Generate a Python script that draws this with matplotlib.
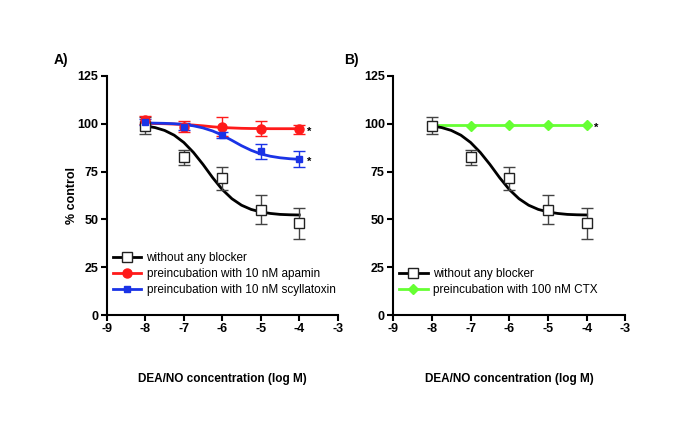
import numpy as np
import matplotlib.pyplot as plt

plt.rcParams['font.family'] = ['Liberation Sans', 'DejaVu Sans']
plt.rcParams['font.weight'] = 'bold'
plt.rcParams['axes.unicode_minus'] = False

# measured points (log M)
conc = [-8, -7, -6, -5, -4]
ctrl_mean = [99, 82.5, 71.5, 55, 48]
ctrl_err = [4.5, 4, 6, 7.5, 8]
apamin_mean = [102, 98.5, 98.5, 97.5, 97]
apamin_err = [2, 3, 5, 4, 2.5]
scylla_mean = [101, 98.5, 94, 85.5, 81.5]
scylla_err = [1.5, 2, 1.5, 4, 4]
ctx_mean = [99, 98.8, 99.2, 99.2, 99.2]

# fitted curves
fit_x = [-8, -7.75, -7.5, -7.25, -7, -6.75, -6.5, -6.25, -6,
         -5.75, -5.5, -5.25, -5, -4.75, -4.5, -4.25, -4]
ctrl_fit = [98.8, 98.0, 96.5, 94.0, 90.2, 85.0, 78.7, 71.8, 65.6,
            60.8, 57.4, 55.2, 53.9, 53.1, 52.6, 52.4, 52.3]
scylla_fit = [100.4, 100.3, 100.2, 100.0, 99.6, 98.9, 97.8, 96.2, 94.0,
              91.3, 88.5, 86.1, 84.2, 83.0, 82.2, 81.7, 81.4]
apamin_fit = [100.2, 100.1, 100.0, 99.8, 99.6, 99.3, 98.9, 98.4, 98.0,
              97.8, 97.6, 97.5, 97.5, 97.4, 97.4, 97.4, 97.4]
ctx_fit = [99.1] * len(fit_x)

RED = '#ff1a1a'
BLUE = '#1a33e6'
GREEN = '#66ff33'

fig = plt.figure(figsize=(6.85, 4.24), dpi=100)
axA = fig.add_axes([0.156, 0.257, 0.337, 0.564])
axB = fig.add_axes([0.574, 0.257, 0.339, 0.564])


def style(ax):
    ax.set_xlim(-9, -3)
    ax.set_ylim(0, 125)
    ax.set_xticks(range(-9, -2))
    ax.set_yticks([0, 25, 50, 75, 100, 125])
    ax.spines['top'].set_visible(False)
    ax.spines['right'].set_visible(False)
    ax.spines['left'].set_linewidth(1.5)
    ax.spines['bottom'].set_linewidth(1.5)
    ax.tick_params(width=1.5, length=4, labelsize=9, pad=2)
    for lab in ax.get_xticklabels() + ax.get_yticklabels():
        lab.set_fontweight('bold')
    ax.set_xlabel('DEA/NO concentration (log M)', fontsize=8.5, fontweight='bold', labelpad=27)


def control(ax, z=4):
    ax.errorbar(conc, ctrl_mean, yerr=ctrl_err, fmt='none', ecolor='#444444',
                elinewidth=1, capsize=4, capthick=1, zorder=z - 1)
    ax.plot(fit_x, ctrl_fit, color='black', lw=2, zorder=2)
    ax.plot(conc, ctrl_mean, 's', mfc='white', mec='#222222', ms=7, mew=1, zorder=z)
    return ax.plot([], [], '-s', color='black', mfc='white', mec='#222222', ms=7, mew=1, lw=2)[0]


leg_kw = dict(loc='lower left', bbox_to_anchor=(-0.02, 0.035), frameon=False,
              handlelength=2.4, handletextpad=0.45, labelspacing=0.35,
              prop={'weight': 'normal', 'size': 8.5})

# panel A
h1 = control(axA)
axA.errorbar(conc, apamin_mean, yerr=apamin_err, fmt='none', ecolor=RED,
             elinewidth=1, capsize=4, capthick=1, zorder=3)
axA.plot(fit_x, apamin_fit, color=RED, lw=2, zorder=2)
axA.plot(conc, apamin_mean, 'o', color=RED, ms=6.5, zorder=5)
h2 = axA.plot([], [], '-o', color=RED, ms=6.5, lw=2)[0]
axA.errorbar(conc, scylla_mean, yerr=scylla_err, fmt='none', ecolor=BLUE,
             elinewidth=1, capsize=4, capthick=1, zorder=3)
axA.plot(fit_x, scylla_fit, color=BLUE, lw=2, zorder=2)
axA.plot(conc, scylla_mean, 's', color=BLUE, ms=5, zorder=5)
h3 = axA.plot([], [], '-s', color=BLUE, ms=5, lw=2)[0]
axA.text(-3.8, apamin_mean[-1] - 1.5, '*', fontsize=8, va='center')
axA.text(-3.8, scylla_mean[-1] - 1.5, '*', fontsize=8, va='center')
style(axA)
axA.set_ylabel('% control', fontsize=9, fontweight='bold')
axA.yaxis.set_label_coords(-0.125, 0.5)
axA.legend([h1, h2, h3], ['without any blocker', 'preincubation with 10 nM apamin',
                          'preincubation with 10 nM scyllatoxin'], **leg_kw)
fig.text(0.078, 0.848, 'A)', fontsize=10, fontweight='bold')

# panel B
axB.plot(fit_x, ctx_fit, color=GREEN, lw=2, zorder=2)
axB.plot(conc, ctx_mean, 'D', color=GREEN, ms=5.5, zorder=3)
g1 = control(axB, z=5)
g2 = axB.plot([], [], '-D', color=GREEN, ms=5.5, lw=2)[0]
axB.text(-3.8, ctx_mean[-1] - 1.5, '*', fontsize=8, va='center')
style(axB)
axB.legend([g1, g2], ['without any blocker', 'preincubation with 100 nM CTX'], **leg_kw)
fig.text(0.503, 0.848, 'B)', fontsize=10, fontweight='bold')

fig.savefig('out.png', dpi=100)
